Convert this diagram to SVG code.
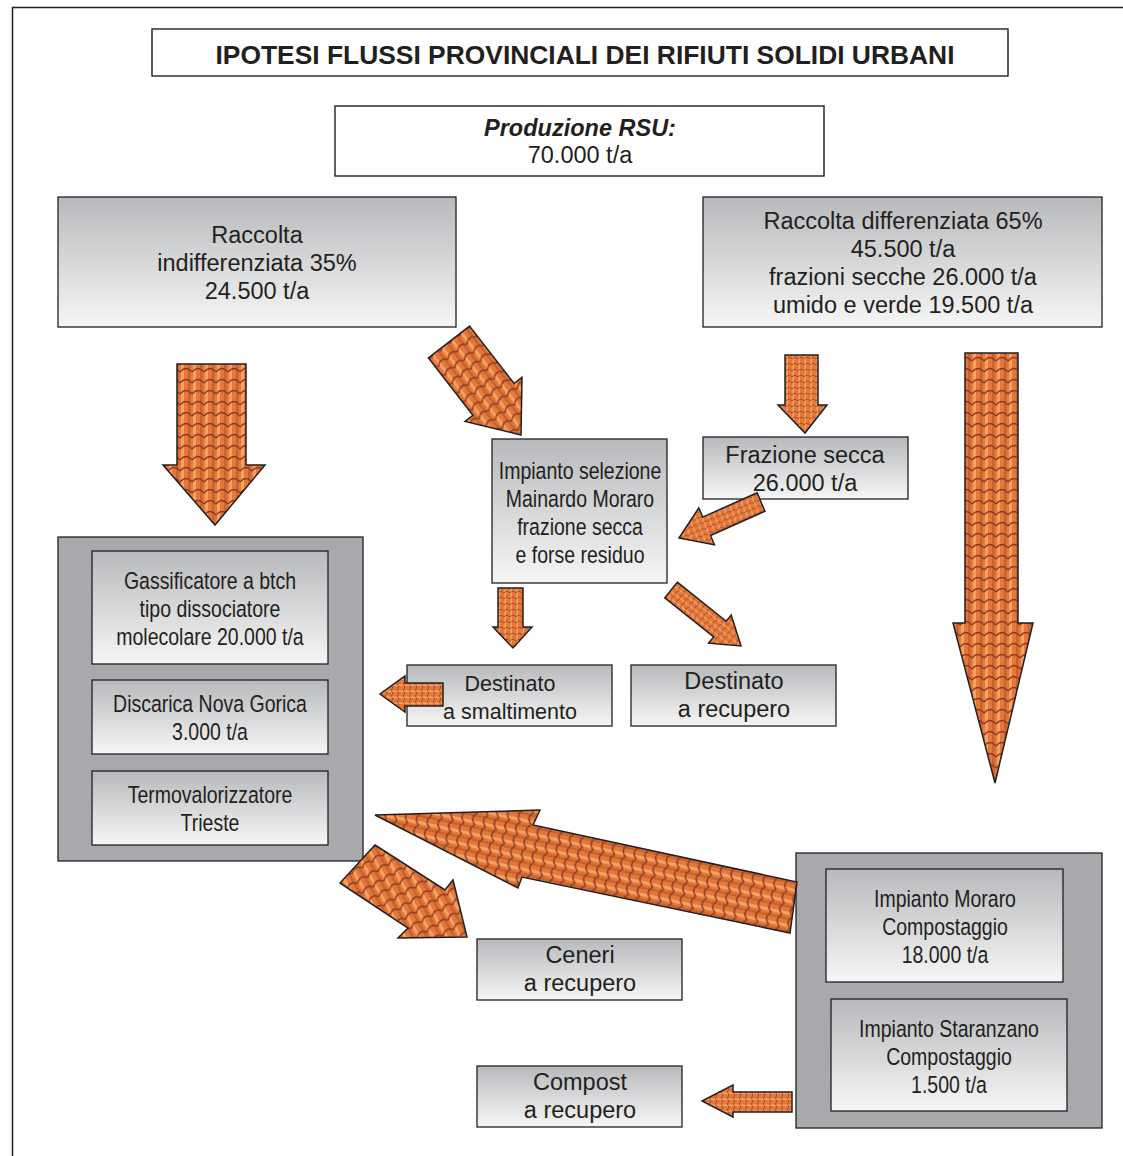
<svg xmlns="http://www.w3.org/2000/svg" xmlns:xlink="http://www.w3.org/1999/xlink" width="1123" height="1156" viewBox="0 0 1123 1156">
<defs>
<linearGradient id="gbox" x1="0" y1="0" x2="0" y2="1">
<stop offset="0" stop-color="#b8b9bc"/>
<stop offset="1" stop-color="#f6f6f6"/>
</linearGradient>
<pattern id="tiles" patternUnits="userSpaceOnUse" width="12" height="11">
<rect width="12" height="11" fill="#e4773a"/>
<rect x="1" y="0" width="3" height="11" fill="#f7a260"/>
<rect x="8" y="0" width="2.5" height="11" fill="#c9622e"/>
<path d="M0 9 Q6 2 12 9" fill="none" stroke="#8b3a24" stroke-width="1.3"/>
</pattern>
<pattern id="tilesS" patternUnits="userSpaceOnUse" width="6" height="6">
<rect width="6" height="6" fill="#e4773a"/>
<rect x="0.5" y="0" width="1.5" height="6" fill="#f7a260"/>
<path d="M0 5 Q3 1.5 6 5" fill="none" stroke="#9c4428" stroke-width="0.8"/>
</pattern>
<pattern id="tilesD1" href="#tiles" xlink:href="#tiles" patternTransform="rotate(-38)"/>
<pattern id="tilesD9" href="#tiles" xlink:href="#tiles" patternTransform="rotate(-78)"/>
<pattern id="tilesD10" href="#tiles" xlink:href="#tiles" patternTransform="rotate(-30)"/>
<pattern id="tilesS4" href="#tilesS" xlink:href="#tilesS" patternTransform="rotate(-22)"/>
<pattern id="tilesS6" href="#tilesS" xlink:href="#tilesS" patternTransform="rotate(-52)"/>
<pattern id="tilesSH" href="#tilesS" xlink:href="#tilesS" patternTransform="rotate(90)"/>
</defs>
<style>
.t{font-family:"Liberation Sans",Arial,sans-serif;font-size:23.5px;fill:#231f20;text-anchor:middle}
.n{font-family:"Liberation Sans",Arial,sans-serif;font-size:23.5px;fill:#231f20;text-anchor:middle}
.box{fill:url(#gbox);stroke:#231f20;stroke-width:1.3}
.wbox{fill:#ffffff;stroke:#231f20;stroke-width:1.4}
.cont{fill:#a7a9ac;stroke:#231f20;stroke-width:1.3}
.arr{stroke:#231f20;stroke-width:1.5;stroke-linejoin:miter}
</style>
<rect width="1123" height="1156" fill="#ffffff"/>
<g id="frame">
<path d="M12.5 1156 V7.5 H1123" fill="none" stroke="#231f20" stroke-width="1.5"/>
</g>
<g id="title">
<rect class="wbox" x="152" y="29" width="856" height="47"/>
<text x="585" y="64" style="font-family:'Liberation Sans',Arial,sans-serif;font-size:26.4px;font-weight:bold;fill:#231f20;text-anchor:middle">IPOTESI FLUSSI PROVINCIALI DEI RIFIUTI SOLIDI URBANI</text>
</g>
<g id="produzione">
<rect class="wbox" x="335" y="106" width="489" height="70"/>
<text class="t" x="580" y="136" style="font-weight:bold;font-style:italic">Produzione RSU:</text>
<text class="t" x="580" y="163">70.000 t/a</text>
</g>
<g id="indifferenziata">
<rect class="box" x="58" y="197" width="398" height="130"/>
<text class="t" x="257" y="243">Raccolta</text>
<text class="t" x="257" y="271">indifferenziata 35%</text>
<text class="t" x="257" y="299">24.500 t/a</text>
</g>
<g id="differenziata">
<rect class="box" x="703" y="197" width="399" height="130"/>
<text class="t" x="903" y="229">Raccolta differenziata 65%</text>
<text class="t" x="903" y="257">45.500 t/a</text>
<text class="t" x="903" y="285">frazioni secche 26.000 t/a</text>
<text class="t" x="903" y="313">umido e verde 19.500 t/a</text>
</g>
<g id="impianto-selezione">
<rect class="box" x="492" y="439" width="175" height="144"/>
<text class="n" transform="translate(580,479) scale(0.83,1)">Impianto selezione</text>
<text class="n" transform="translate(580,507) scale(0.83,1)">Mainardo Moraro</text>
<text class="n" transform="translate(580,535) scale(0.83,1)">frazione secca</text>
<text class="n" transform="translate(580,563) scale(0.83,1)">e forse residuo</text>
</g>
<g id="frazione-secca">
<rect class="box" x="703" y="437" width="205" height="62"/>
<text class="t" x="805" y="463">Frazione secca</text>
<text class="t" x="805" y="491">26.000 t/a</text>
</g>
<g id="impianti-sinistra">
<rect class="cont" x="58" y="537" width="305" height="324"/>
<g id="gassificatore">
<rect class="box" x="92" y="551" width="236" height="113"/>
<text class="n" transform="translate(210,589) scale(0.83,1)">Gassificatore a btch</text>
<text class="n" transform="translate(210,617) scale(0.83,1)">tipo dissociatore</text>
<text class="n" transform="translate(210,645) scale(0.83,1)">molecolare 20.000 t/a</text>
</g>
<g id="discarica">
<rect class="box" x="92" y="680" width="236" height="74"/>
<text class="n" transform="translate(210,712) scale(0.83,1)">Discarica Nova Gorica</text>
<text class="n" transform="translate(210,740) scale(0.83,1)">3.000 t/a</text>
</g>
<g id="termovalorizzatore">
<rect class="box" x="92" y="771" width="236" height="74"/>
<text class="n" transform="translate(210,803) scale(0.83,1)">Termovalorizzatore</text>
<text class="n" transform="translate(210,831) scale(0.83,1)">Trieste</text>
</g>
</g>
<g id="smaltimento">
<rect class="box" x="407" y="665" width="205" height="61"/>
<text class="t" x="510" y="691" style="font-size:21.5px">Destinato</text>
<text class="t" x="510" y="719" style="font-size:21.5px">a smaltimento</text>
</g>
<g id="recupero">
<rect class="box" x="631" y="665" width="205" height="61"/>
<text class="t" x="734" y="689">Destinato</text>
<text class="t" x="734" y="717">a recupero</text>
</g>
<g id="ceneri">
<rect class="box" x="477" y="939" width="205" height="61"/>
<text class="t" x="580" y="963">Ceneri</text>
<text class="t" x="580" y="991">a recupero</text>
</g>
<g id="compost">
<rect class="box" x="477" y="1066" width="205" height="61"/>
<text class="t" x="580" y="1090">Compost</text>
<text class="t" x="580" y="1118">a recupero</text>
</g>
<g id="impianti-destra">
<rect class="cont" x="796" y="853" width="306" height="275"/>
<g id="moraro">
<rect class="box" x="826" y="869" width="237" height="113"/>
<text class="n" transform="translate(945,907) scale(0.83,1)">Impianto Moraro</text>
<text class="n" transform="translate(945,935) scale(0.83,1)">Compostaggio</text>
<text class="n" transform="translate(945,963) scale(0.83,1)">18.000 t/a</text>
</g>
<g id="staranzano">
<rect class="box" x="831" y="999" width="236" height="112"/>
<text class="n" transform="translate(949,1037) scale(0.83,1)">Impianto Staranzano</text>
<text class="n" transform="translate(949,1065) scale(0.83,1)">Compostaggio</text>
<text class="n" transform="translate(949,1093) scale(0.83,1)">1.500 t/a</text>
</g>
</g>
<g id="connectors">
<polygon class="arr" fill="url(#tiles)" points="177,364 246,364 246,465 265,465 215,525 163,465 177,465"/>
<polygon class="arr" fill="url(#tilesD1)" points="469.6,326.1 514.1,383.5 522,377.4 521,435 465,421.4 472.9,415.3 428.4,357.9"/>
<polygon class="arr" fill="url(#tilesS)" points="785,355 818,355 818,405 827,405 805,433 778,405 785,405"/>
<polygon class="arr" fill="url(#tilesS4)" points="764.9,511.2 710.5,535.5 714.4,544.7 679,538 698.8,507.9 702.7,517.1 757.1,492.8"/>
<polygon class="arr" fill="url(#tilesS)" points="498,588 523,588 523,627 532,627 513,648 493,627 498,627"/>
<polygon class="arr" fill="url(#tilesS6)" points="677.3,582.2 726.2,621.3 731.2,615 741,646 708.6,643.2 713.7,636.9 664.8,597.8"/>
<polygon class="arr" fill="url(#tilesSH)" points="443,683 443,706 405,706 405,712 380,694 405,676 405,683"/>
<polygon class="arr" fill="url(#tiles)" points="965,353 1018,353 1018,623 1033,623 995,783 953,623 965,623"/>
<polygon class="arr" fill="url(#tilesD9)" points="375,815 540,810 533,825 797,882 790,933 522,877 518,888"/>
<polygon class="arr" fill="url(#tilesD10)" points="375,845 445,890 453,880 467,937 398,938 408,928 340,883"/>
<polygon class="arr" fill="url(#tilesSH)" points="792,1092 792,1112 733,1112 733,1117 702,1101 733,1085 733,1092"/>
</g>
</svg>
